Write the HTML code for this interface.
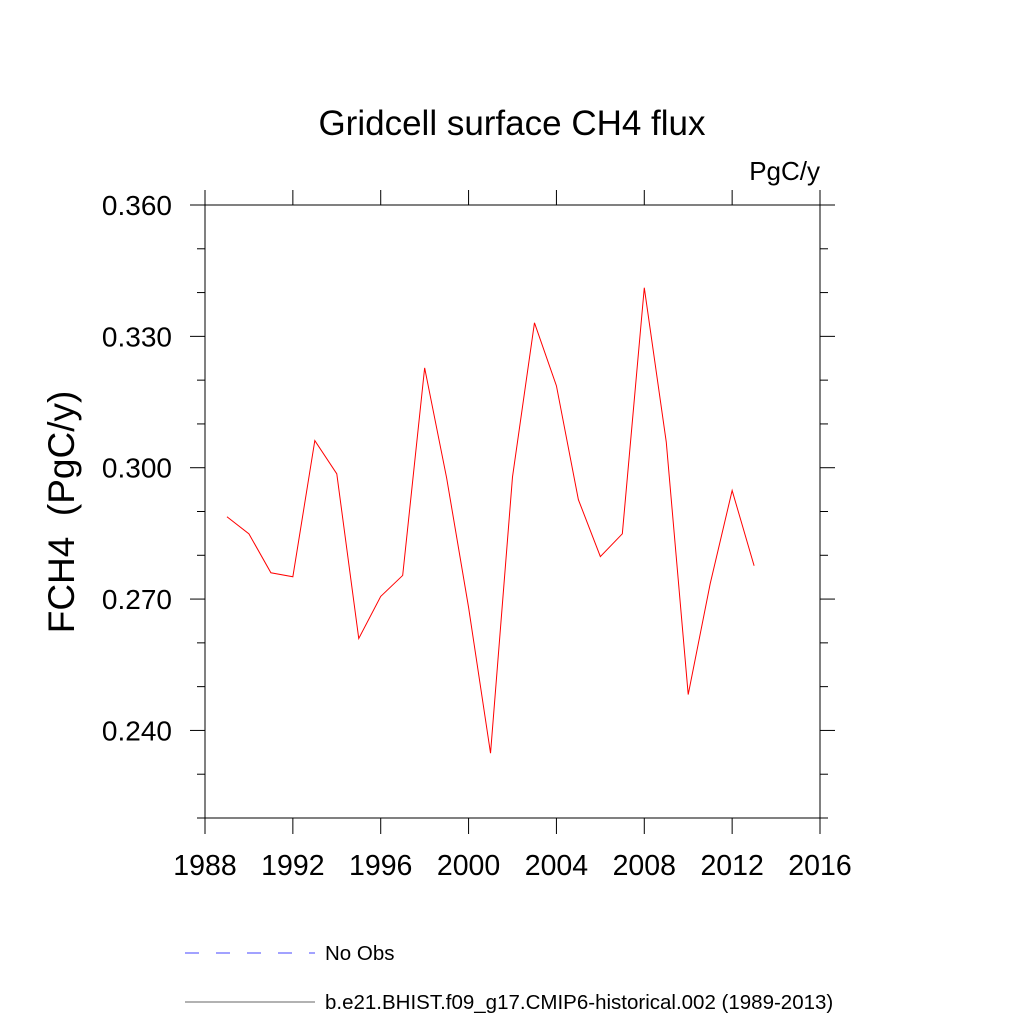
<!DOCTYPE html>
<html><head><meta charset="utf-8"><style>
html,body{margin:0;padding:0;background:#fff;}
svg text{font-family:"Liberation Sans",sans-serif;fill:#000;}
</style></head><body>
<svg id="chart" width="1024" height="1024" xmlns="http://www.w3.org/2000/svg">
<text x="512" y="135" font-size="35" text-anchor="middle">Gridcell surface CH4 flux</text>
<text x="820" y="180" font-size="26" text-anchor="end">PgC/y</text>
<text xml:space="preserve" transform="translate(74,512) rotate(-90)" font-size="37" text-anchor="middle">FCH4  (PgC/y)</text>
<rect x="205" y="205" width="615" height="613" fill="none" stroke="#000" stroke-width="1"/>
<g id="axes"></g>
<g id="series"></g>
<g>
<line x1="185" y1="953" x2="315" y2="953" stroke="#4444ff" stroke-width="1" stroke-dasharray="14,17"/>
<text x="325" y="960" font-size="20.5">No Obs</text>
<line x1="185" y1="1002" x2="315" y2="1002" stroke="#666" stroke-width="1"/>
<text x="325" y="1009" font-size="20.5">b.e21.BHIST.f09_g17.CMIP6-historical.002 (1989-2013)</text>
</g>
</svg>
<script>
const years=[1989,1990,1991,1992,1993,1994,1995,1996,1997,1998,1999,2000,2001,2002,2003,2004,2005,2006,2007,2008,2009,2010,2011,2012,2013];
const values=[0.2888,0.2849,0.2760,0.2751,0.3062,0.2986,0.2610,0.2706,0.2754,0.3228,0.2977,0.2681,0.2348,0.2979,0.3331,0.3187,0.2927,0.2797,0.2849,0.3411,0.3059,0.2482,0.2735,0.2948,0.2776];
const xTicks=[1988,1992,1996,2000,2004,2008,2012,2016];
const yTicks=[0.24,0.27,0.30,0.33,0.36];
const yTickLabels=["0.240","0.270","0.300","0.330","0.360"];
const yMinor=[0.22,0.23,0.25,0.26,0.28,0.29,0.31,0.32,0.34,0.35];
const X0=205,X1=820,Y0=818,Y1=205,xmin=1988,xmax=2016,ymin=0.22,ymax=0.36;
const xs=v=>X0+(v-xmin)/(xmax-xmin)*(X1-X0);
const ys=v=>Y0-(v-ymin)/(ymax-ymin)*(Y0-Y1);
const NS="http://www.w3.org/2000/svg";
const axes=document.getElementById('axes');
function ln(x1,y1,x2,y2,name){const l=document.createElementNS(NS,'line');
l.setAttribute('x1',x1);l.setAttribute('y1',y1);l.setAttribute('x2',x2);l.setAttribute('y2',y2);
l.setAttribute('stroke','#000');l.setAttribute('stroke-width','1');


axes.appendChild(l);}
ln(197,818,205,818,'x-axis-extension');ln(205,190,205,205,'y-axis-extension');
xTicks.forEach(t=>{const x=xs(t);ln(x,818,x,834,'x-tick');ln(x,205,x,190,'x-tick-top');
const tx=document.createElementNS(NS,'text');tx.setAttribute('x',x);tx.setAttribute('y',875);
tx.setAttribute('font-size','28.5');tx.setAttribute('text-anchor','middle');tx.textContent=t;


axes.appendChild(tx);});
yTicks.forEach((t,i)=>{const y=ys(t);ln(190,y,205,y,'y-tick');ln(820,y,835,y,'y-tick-right');
const tx=document.createElementNS(NS,'text');tx.setAttribute('x',172);tx.setAttribute('y',y+10);
tx.setAttribute('font-size','28');tx.setAttribute('text-anchor','end');tx.textContent=yTickLabels[i];


axes.appendChild(tx);});
yMinor.forEach(t=>{const y=ys(t);ln(197,y,205,y,'y-minor-tick');ln(820,y,828,y,'y-minor-tick-right');});
const p=document.createElementNS(NS,'polyline');
p.setAttribute('points',years.map((yr,i)=>xs(yr)+','+ys(values[i])).join(' '));
p.setAttribute('fill','none');p.setAttribute('stroke','#ff0000');p.setAttribute('stroke-width','1');


document.getElementById('series').appendChild(p);
</script>
</body></html>
